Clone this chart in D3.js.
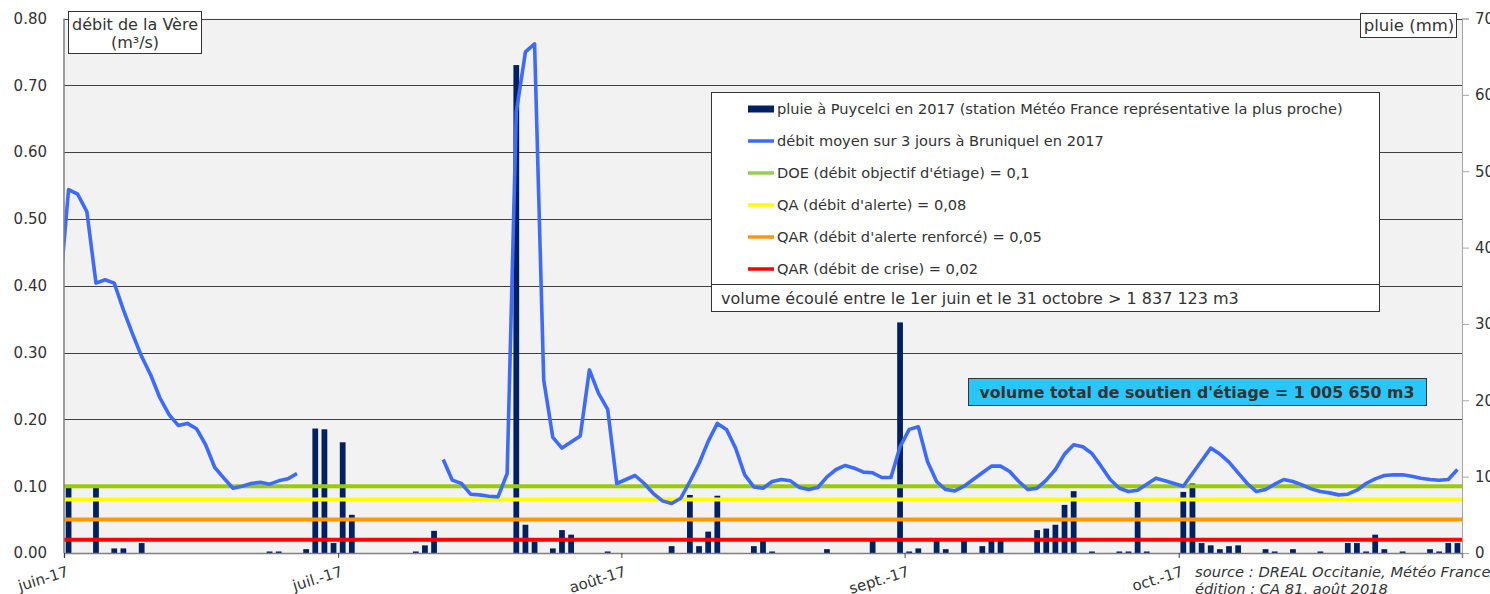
<!DOCTYPE html>
<html>
<head>
<meta charset="utf-8">
<script src="https://cdn.jsdelivr.net/npm/d3@7"></script>
<style>
  body { margin: 0; background: #fff; }
  text { font-family: "DejaVu Sans", Verdana, sans-serif; fill: #333; }
</style>
</head>
<body>
<div id="container"></div>
<script>
// month ticks
const monthStarts = ["2017-06-01", "2017-07-01", "2017-08-01", "2017-09-01", "2017-10-01"];
const monthLabels = ["juin-17", "juil.-17", "août-17", "sept.-17", "oct.-17"];

// daily rain at Puycelci (mm), one value per day
const rainJune = [8.6,0,0,8.6,0,0.6,0.6,0,1.3,0, 0,0,0,0,0,0,0,0,0,0, 0,0,0.2,0.2,0,0,0.5,16.3,16.2,1.3];
const rainJuly = [14.5,5.0,0,0,0,0,0,0,0.2,1.0, 2.9,0,0,0,0,0,0,0,0,63.9, 3.7,1.5,0,0.6,3.0,2.4,0,0,0,0.2, 0];
const rainAug  = [0,0,0,0,0,0.9,0,7.6,0.9,2.8, 7.5,0,0,0,0.9,1.6,0.2,0,0,0, 0,0,0.5,0,0,0,0,1.6,0,0, 30.2];
const rainSept = [0.2,0.6,0,1.6,0.5,0,1.6,0,0.9,1.6, 1.6,0,0,0,3.0,3.2,3.7,6.3,8.1,0, 0.2,0,0,0.2,0.2,6.7,0.2,0,0,0];
const rainOct  = [8.0,9.1,1.3,1.0,0.5,0.9,1.0,0,0,0.5, 0.2,0,0.5,0,0,0.2,0,0,1.3,1.3, 0.2,2.4,0.5,0,0.2,0,0,0.5,0.2,1.3, 1.3];

// 3-day mean flow at Bruniquel (m3/s), starts on May 31
const flowMay31 = [0.385];
const flowJune = [0.544,0.537,0.511,0.404,0.409,0.404,0.364,0.328,0.294,0.266, 0.232,0.207,0.191,0.194,0.186,0.162,0.128,0.112,0.097,0.100, 0.104,0.106,0.103,0.108,0.111,0.119,null,null,null,null];
const flowJuly = [null,null,null,null,null,null,null,null,null,null, null,0.140,0.109,0.104,0.088,0.087,0.085,0.084,0.119,0.660, 0.750,0.762,0.259,0.173,0.157,0.166,0.175,0.274,0.239,0.215, 0.104];
const flowAug  = [0.110,0.116,0.104,0.089,0.078,0.074,0.082,0.107,0.134,0.167, 0.194,0.185,0.157,0.117,0.099,0.097,0.107,0.110,0.108,0.098, 0.095,0.098,0.114,0.125,0.131,0.127,0.121,0.120,0.113,0.113, 0.159];
const flowSept = [0.185,0.189,0.137,0.107,0.095,0.093,0.100,0.110,0.120,0.130, 0.130,0.122,0.107,0.095,0.097,0.109,0.125,0.148,0.162,0.159, 0.149,0.130,0.110,0.097,0.092,0.094,0.103,0.112,0.108,0.104];
const flowOct  = [0.100,0.119,0.138,0.157,0.148,0.136,0.120,0.104,0.092,0.095, 0.103,0.110,0.107,0.102,0.096,0.092,0.090,0.087,0.088,0.094, 0.104,0.111,0.116,0.117,0.117,0.115,0.112,0.110,0.109,0.110, 0.125];

// reference flows
const thresholdValues = [0.1, 0.08, 0.05, 0.02];
const legendLabels = [
  "pluie à Puycelci en 2017 (station Météo France représentative la plus proche)",
  "débit moyen sur 3 jours à Bruniquel en 2017",
  "DOE (débit objectif d'étiage) = 0,1",
  "QA (débit d'alerte) = 0,08",
  "QAR (débit d'alerte renforcé) = 0,05",
  "QAR (débit de crise) = 0,02"
];
const volumeText = "volume écoulé entre le 1er juin et le 31 octobre > 1 837 123 m3";
const soutienText = "volume total de soutien d'étiage = 1 005 650 m3";
const leftTitle = ["débit de la Vère", "(m³/s)"];
const rightTitle = "pluie (mm)";
const sourceLines = ["source : DREAL Occitanie, Météo France", "édition : CA 81, août 2018"];

const barColor = "#002060";
const flowColor = "#3d6bff";
const thresholdColors = ["#99cc00", "#ffff00", "#ff9900", "#ff0000"];

function renderChart() {
    const width = 1490;
    const height = 594;
    const marginLeft = 64;
    const marginRight = 28;
    const marginTop = 18.5;
    const marginBottom = 41;

    const parse = d3.timeParse("%Y-%m-%d");
    const june1 = parse("2017-06-01");
    const nov1 = parse("2017-11-01");

    const rain = [].concat(rainJune, rainJuly, rainAug, rainSept, rainOct)
        .map((v, i) => ({date: d3.timeDay.offset(june1, i), value: v}));
    const may31 = parse("2017-05-31");
    const flow = [].concat(flowMay31, flowJune, flowJuly, flowAug, flowSept, flowOct)
        .map((v, i) => ({date: d3.timeDay.offset(may31, i), value: v}));

    const mid = d => d3.timeHour.offset(d, 12);

    const x = d3.scaleTime().domain([june1, nov1]).range([marginLeft, width - marginRight]);
    const y = d3.scaleLinear([0, 0.8], [height - marginBottom, marginTop]);
    const y2 = d3.scaleLinear([0, 70], [height - marginBottom, marginTop]);

    const dayW = x(d3.timeDay.offset(june1, 1)) - x(june1);
    const barW = dayW * 0.63;

    const svg = d3.create("svg")
        .attr("width", width)
        .attr("height", height)
        .attr("viewBox", [0, 0, width, height]);

    svg.append("defs").append("clipPath").attr("id", "plot")
        .append("rect")
        .attr("x", marginLeft).attr("y", marginTop)
        .attr("width", width - marginLeft - marginRight)
        .attr("height", height - marginTop - marginBottom);

    // plot background
    svg.append("rect")
        .attr("x", marginLeft).attr("y", marginTop)
        .attr("width", width - marginLeft - marginRight)
        .attr("height", height - marginTop - marginBottom)
        .attr("fill", "#f2f2f2");

    // left axis + gridlines
    svg.append("g")
        .attr("transform", `translate(${marginLeft},0)`)
        .call(d3.axisLeft(y).tickValues(d3.range(0, 0.81, 0.1)).tickFormat(d3.format(".2f")).tickSize(0).tickPadding(17))
        .call(g => g.select(".domain").remove())
        .call(g => g.selectAll(".tick line").clone()
            .attr("x2", width - marginLeft - marginRight)
            .attr("stroke", "#404040")
            .attr("shape-rendering", "crispEdges"))
        .call(g => g.selectAll(".tick text").attr("font-size", 15).attr("font-family", "DejaVu Sans").attr("fill", "#333"));

    // right axis (labels run off the page edge, as in the original)
    svg.append("g")
        .attr("transform", `translate(${width - marginRight},0)`)
        .call(d3.axisRight(y2).tickValues(d3.range(0, 71, 10)).tickSize(7).tickPadding(6))
        .call(g => g.select(".domain").attr("stroke", "#a6a6a6"))
        .call(g => g.selectAll(".tick line").attr("stroke", "#a6a6a6"))
        .call(g => g.selectAll(".tick text").attr("font-size", 15).attr("font-family", "DejaVu Sans").attr("fill", "#333"));

    // rain bars
    svg.append("g")
        .attr("fill", barColor)
        .selectAll("rect")
        .data(rain.filter(d => d.value > 0))
        .join("rect")
        .attr("x", d => x(mid(d.date)) - barW / 2)
        .attr("y", d => y2(d.value))
        .attr("width", barW)
        .attr("height", d => y2(0) - y2(d.value));

    // threshold lines
    svg.append("g")
        .selectAll("line")
        .data(thresholdValues)
        .join("line")
        .attr("x1", marginLeft).attr("x2", width - marginRight)
        .attr("y1", d => y(d)).attr("y2", d => y(d))
        .attr("stroke", (d, i) => thresholdColors[i])
        .attr("stroke-width", 4);

    // flow line
    const line = d3.line()
        .defined(d => d.value != null)
        .x(d => x(mid(d.date)))
        .y(d => y(d.value));

    svg.append("path")
        .attr("clip-path", "url(#plot)")
        .attr("fill", "none")
        .attr("stroke", flowColor)
        .attr("stroke-width", 3.6)
        .attr("stroke-linejoin", "round")
        .attr("d", line(flow));

    // left and bottom axis lines
    svg.append("line")
        .attr("x1", marginLeft).attr("x2", marginLeft)
        .attr("y1", marginTop).attr("y2", y(0))
        .attr("stroke", "#808080").attr("stroke-width", 1.5);

    const xAxis = svg.append("g")
        .attr("transform", `translate(0,${y(0)})`)
        .call(d3.axisBottom(x).tickValues(monthStarts.map(parse)).tickFormat((d, i) => monthLabels[i]).tickSize(5).tickPadding(0))
        .call(g => g.select(".domain").attr("stroke", "#808080").attr("stroke-width", 1.5));
    xAxis.selectAll(".tick line").attr("stroke", "#404040");
    xAxis.selectAll(".tick text")
        .attr("font-size", 15).attr("font-family", "DejaVu Sans").attr("fill", "#333")
        .attr("text-anchor", "end")
        .attr("dy", null)
        .attr("y", null)
        .attr("transform", "translate(5,23) rotate(-17)");

    // legend
    const lg = svg.append("g");
    lg.append("rect")
        .attr("x", 711.5).attr("y", 92.5).attr("width", 668).attr("height", 219)
        .attr("fill", "#fff").attr("stroke", "#333");
    lg.append("line")
        .attr("x1", 711.5).attr("x2", 1379.5).attr("y1", 284.5).attr("y2", 284.5)
        .attr("stroke", "#333");
    const symbolColors = [barColor, flowColor].concat(thresholdColors.map(c => c === "#99cc00" ? "#92d050" : c));
    const rows = lg.selectAll("g.row")
        .data(legendLabels)
        .join("g")
        .attr("transform", (d, i) => `translate(748,${109 + i * 32})`);
    rows.append("rect")
        .attr("x", 0).attr("width", 26)
        .attr("y", (d, i) => i === 0 ? -3.5 : -1.75)
        .attr("height", (d, i) => i === 0 ? 7 : 3.5)
        .attr("fill", (d, i) => symbolColors[i]);
    rows.append("text")
        .attr("x", 29).attr("y", 5)
        .attr("font-size", 14.6)
        .attr("fill", "#222")
        .text(d => d);
    lg.append("text")
        .attr("x", 721).attr("y", 304)
        .attr("font-size", 16)
        .attr("fill", "#222")
        .text(volumeText);

    // soutien box
    svg.append("rect")
        .attr("x", 968.5).attr("y", 378.5).attr("width", 458).attr("height", 27)
        .attr("fill", "#29c6ff").attr("stroke", "#333");
    svg.append("text")
        .attr("x", 1197).attr("y", 398)
        .attr("text-anchor", "middle")
        .attr("font-size", 15.8).attr("font-weight", "bold").attr("fill", "#111")
        .text(soutienText);

    // axis title boxes
    svg.append("rect")
        .attr("x", 68.5).attr("y", 11.5).attr("width", 133).attr("height", 42)
        .attr("fill", "#fff").attr("stroke", "#333");
    svg.append("text")
        .attr("x", 135).attr("y", 30)
        .attr("text-anchor", "middle").attr("font-size", 16)
        .selectAll("tspan")
        .data(leftTitle)
        .join("tspan")
        .attr("x", 135)
        .attr("dy", (d, i) => i === 0 ? 0 : 18)
        .text(d => d);

    svg.append("rect")
        .attr("x", 1360.5).attr("y", 13.5).attr("width", 96).attr("height", 24)
        .attr("fill", "#fff").attr("stroke", "#333");
    svg.append("text")
        .attr("x", 1409).attr("y", 31)
        .attr("text-anchor", "middle").attr("font-size", 16.5)
        .text(rightTitle);

    // source
    svg.append("g")
        .selectAll("text")
        .data(sourceLines)
        .join("text")
        .attr("x", 1195)
        .attr("y", (d, i) => 577 + i * 17)
        .attr("font-size", 14.7).attr("font-style", "italic").attr("fill", "#222")
        .text(d => d);

    document.getElementById("container").append(svg.node());
}

renderChart();
</script>
</body>
</html>
